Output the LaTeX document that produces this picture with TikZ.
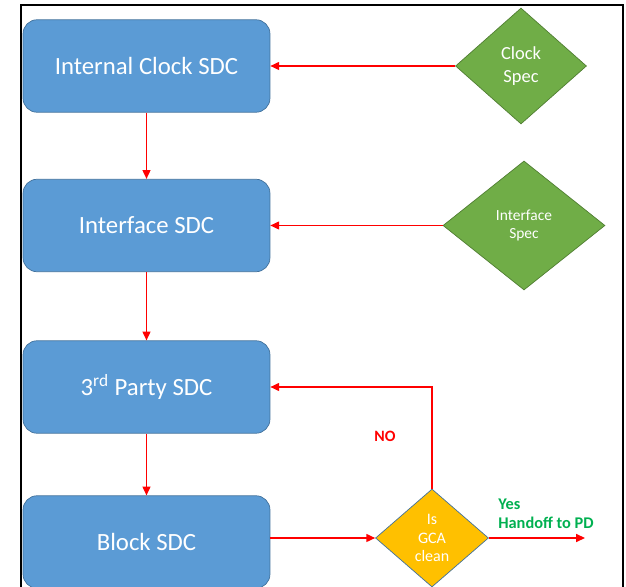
\documentclass[tikz,border=0pt]{standalone}
\usepackage{fontspec}
\setmainfont{Carlito}
\usepackage{tikz}
\usetikzlibrary{arrows.meta,shapes.geometric}

\definecolor{sdcblue}{HTML}{5B9BD5}
\definecolor{sdcedge}{HTML}{41719C}
\definecolor{specgreen}{HTML}{70AD47}
\definecolor{specedge}{HTML}{507E32}
\definecolor{gcagold}{HTML}{FFC000}
\definecolor{yesgreen}{HTML}{00B050}

\begin{document}
\begin{tikzpicture}[x=0.02cm, y=-0.02cm,
    sdcbox/.style={rectangle, rounded corners=8pt, fill=sdcblue, draw=sdcedge,
        text=white, minimum width=4.94cm, minimum height=1.85cm,
        font=\fontsize{14.1}{16}\selectfont},
    specdia/.style={diamond, fill=specgreen, draw=specedge, text=white,
        inner sep=0pt, align=center},
    flow/.style={->, red, line width=0.8pt},
    >={Triangle[length=5pt,width=4.5pt]}]

    \useasboundingbox (0,0) rectangle (626,587);
    \clip (0,0) rectangle (626,587);

    % outer frame, runs off the bottom
    \draw[line width=1.1pt] (21,600) -- (21,5) -- (623,5) -- (623,600);

    \coordinate (handoff) at (585,538);

    \node[sdcbox] (intclk) at (146.5,66) {Internal Clock SDC};
    \node[sdcbox] (iface)  at (146.5,225.5) {Interface SDC};
    \node[sdcbox] (party)  at (146.5,387) {3\textsuperscript{rd} Party SDC};
    \node[sdcbox] (block)  at (146.5,542) {Block SDC};

    \node[specdia, minimum width=2.62cm, minimum height=2.32cm,
          font=\fontsize{10.5}{12.8}\selectfont] (cspec) at (521,66) {Clock\\Spec};
    \node[specdia, minimum width=3.24cm, minimum height=2.58cm,
          font=\fontsize{8.8}{10.4}\selectfont] (ispec) at (524,225.5) {Interface\\Spec};

    \node[diamond, fill=gcagold, draw=sdcedge, text=white, inner sep=0pt, align=center,
          minimum width=2.26cm, minimum height=1.96cm,
          font=\fontsize{9.1}{10.4}\selectfont] (gca) at (432,538) {Is\\GCA\\clean};

    % spec inputs
    \draw[flow] (cspec) -- (intclk);
    \draw[flow] (ispec) -- (iface);

    % main chain
    \draw[flow] (intclk) -- (iface);
    \draw[flow] (iface) -- (party);
    \draw[flow] (party) -- (block);
    \draw[flow] (block.east |- gca.west) -- (gca.west);

    % loop back when not clean
    \draw[flow] (gca.north) |- (party.east);
    \draw[flow] (gca.east) -- (handoff);

    \node[red, font=\fontsize{9}{10}\bfseries\selectfont] (nolbl) at (385,436) {NO};
    \node[yesgreen, anchor=west, align=left, inner sep=0pt,
          font=\fontsize{9.3}{10.6}\bfseries\selectfont] (yeslbl) at (498,514) {Yes\\Handoff to PD};
\end{tikzpicture}
\end{document}
